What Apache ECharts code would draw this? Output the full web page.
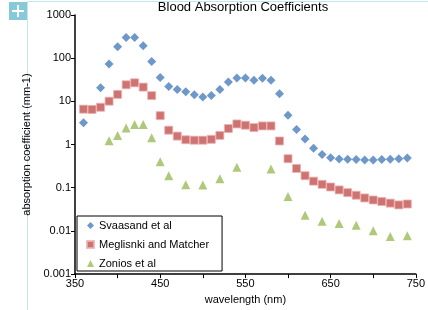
<!DOCTYPE html>
<html>
<head>
<meta charset="utf-8">
<script src="https://cdn.jsdelivr.net/npm/echarts@6/dist/echarts.min.js"></script>
<style>
  html, body { margin: 0; padding: 0; background: #fff; }
  #chart { width: 428px; height: 310px; }
</style>
</head>
<body>
<div id="chart"></div>
<script>
// wavelengths (nm) and absorption coefficients (mm-1)
const svaasandWl = [360, 380, 390, 400, 410, 420, 430, 440, 450, 460, 470, 480, 490, 500, 510, 520, 530, 540, 550, 560, 570, 580, 590, 600, 610, 620, 630, 640, 650, 660, 670, 680, 690, 700, 710, 720, 730, 740];
const svaasandVal = [3.2, 20.7, 73, 185, 301, 300, 195, 84, 35.5, 22, 18.9, 16.7, 14.3, 12.7, 13.6, 18.9, 27.9, 34.9, 34.9, 31, 34.4, 31, 15.1, 4.74, 2.23, 1.34, 0.82, 0.59, 0.494, 0.461, 0.455, 0.45, 0.44, 0.44, 0.45, 0.455, 0.469, 0.487];

const meglinskiWl = [360, 370, 380, 390, 400, 410, 420, 430, 440, 450, 460, 470, 480, 490, 500, 510, 520, 530, 540, 550, 560, 570, 580, 590, 600, 610, 620, 630, 640, 650, 660, 670, 680, 690, 700, 710, 720, 730, 740];
const meglinskiVal = [6.6, 6.5, 7.3, 10.1, 14.5, 24.2, 26.9, 21.4, 13.6, 4.67, 2.15, 1.57, 1.29, 1.26, 1.26, 1.32, 1.63, 2.35, 3.0, 2.8, 2.47, 2.7, 2.7, 1.21, 0.47, 0.28, 0.19, 0.142, 0.12, 0.104, 0.089, 0.077, 0.067, 0.058, 0.052, 0.048, 0.044, 0.040, 0.042];

const zoniosWl = [390, 400, 410, 420, 430, 440, 450, 460, 480, 500, 520, 540, 580, 600, 620, 640, 660, 680, 700, 720, 740];
const zoniosVal = [1.23, 1.63, 2.43, 2.9, 2.9, 1.44, 0.4, 0.19, 0.117, 0.115, 0.161, 0.30, 0.27, 0.063, 0.023, 0.0168, 0.0148, 0.0136, 0.0101, 0.0074, 0.0077];

const seriesNames = ['Svaasand et al', 'Meglisnki and Matcher', 'Zonios et al'];
const yTickLabels = ['0.001', '0.01', '0.1', '1', '10', '100', '1000'];

const pair = (xs, ys) => xs.map((x, i) => [x, ys[i]]);
const font = '"Liberation Sans", Arial, sans-serif';

const chart = echarts.init(document.getElementById('chart'));
chart.setOption({
  animation: false,
  textStyle: { fontFamily: font },
  title: {
    text: 'Blood Absorption Coefficients',
    left: 243, top: 1, textAlign: 'center', padding: 0,
    textStyle: { fontSize: 13, fontWeight: 'normal', color: '#000', fontFamily: font }
  },
  grid: { left: 75, right: 8, top: 15, bottom: 32 },
  legend: {
    orient: 'vertical',
    left: 77, top: 216,
    padding: [4, 13, 2, 9],
    itemGap: 8,
    itemWidth: 7, itemHeight: 7,
    borderColor: '#000', borderWidth: 1,
    backgroundColor: '#fff',
    textStyle: { fontSize: 11, color: '#000', fontFamily: font },
    data: [
      { name: seriesNames[0], icon: 'diamond' },
      { name: seriesNames[1], icon: 'rect' },
      { name: seriesNames[2], icon: 'triangle' }
    ]
  },
  xAxis: {
    type: 'value',
    min: 350, max: 750, interval: 50,
    name: 'wavelength (nm)',
    nameLocation: 'middle', nameGap: 19,
    nameTextStyle: { fontSize: 11, color: '#000' },
    axisLine: { onZero: false, lineStyle: { color: '#000', width: 1.5 } },
    axisTick: { show: true, length: 4, lineStyle: { color: '#000' } },
    axisLabel: {
      fontSize: 11, color: '#000', margin: 4,
      formatter: v => ((v - 350) % 100 === 0 ? String(v) : '')
    },
    splitLine: { show: false }
  },
  yAxis: {
    type: 'log',
    logBase: 10,
    min: 0.001, max: 1000,
    name: 'absorption coefficient (mm-1)',
    nameLocation: 'middle', nameGap: 34,
    nameTextStyle: { fontSize: 11, color: '#000' },
    axisLine: { show: true, lineStyle: { color: '#000', width: 1.5 } },
    axisTick: { show: true, length: 4, lineStyle: { color: '#000' } },
    axisLabel: {
      fontSize: 11, color: '#000', margin: 4,
      formatter: v => {
        const e = Math.round(Math.log10(v));
        return yTickLabels[e + 3] || '';
      }
    },
    splitLine: { show: false }
  },
  series: [
    {
      name: seriesNames[0], type: 'scatter', symbol: 'diamond', symbolSize: 9,
      itemStyle: { color: '#4a7ebb' },
      data: pair(svaasandWl, svaasandVal)
    },
    {
      name: seriesNames[1], type: 'scatter', symbol: 'rect', symbolSize: 8,
      itemStyle: { color: '#c0504d', borderColor: '#eeb1b0', borderWidth: 1 },
      data: pair(meglinskiWl, meglinskiVal)
    },
    {
      name: seriesNames[2], type: 'scatter', symbol: 'triangle', symbolSize: 9,
      itemStyle: { color: '#9bbb59' },
      data: pair(zoniosWl, zoniosVal)
    }
  ],
  graphic: [
    { type: 'line', shape: { x1: 27, y1: 1.5, x2: 428, y2: 1.5 }, style: { stroke: '#c5e6ee', lineWidth: 1 } },
    { type: 'line', shape: { x1: 27.5, y1: 1, x2: 27.5, y2: 310 }, style: { stroke: '#c5e6ee', lineWidth: 1 } },
    { type: 'rect', shape: { x: 9, y: 2, width: 18, height: 18 }, style: { fill: '#86cad9' } },
    { type: 'rect', shape: { x: 17, y: 5, width: 2, height: 12 }, style: { fill: '#fff' } },
    { type: 'rect', shape: { x: 12, y: 10, width: 12, height: 2 }, style: { fill: '#fff' } }
  ]
});
</script>
</body>
</html>
